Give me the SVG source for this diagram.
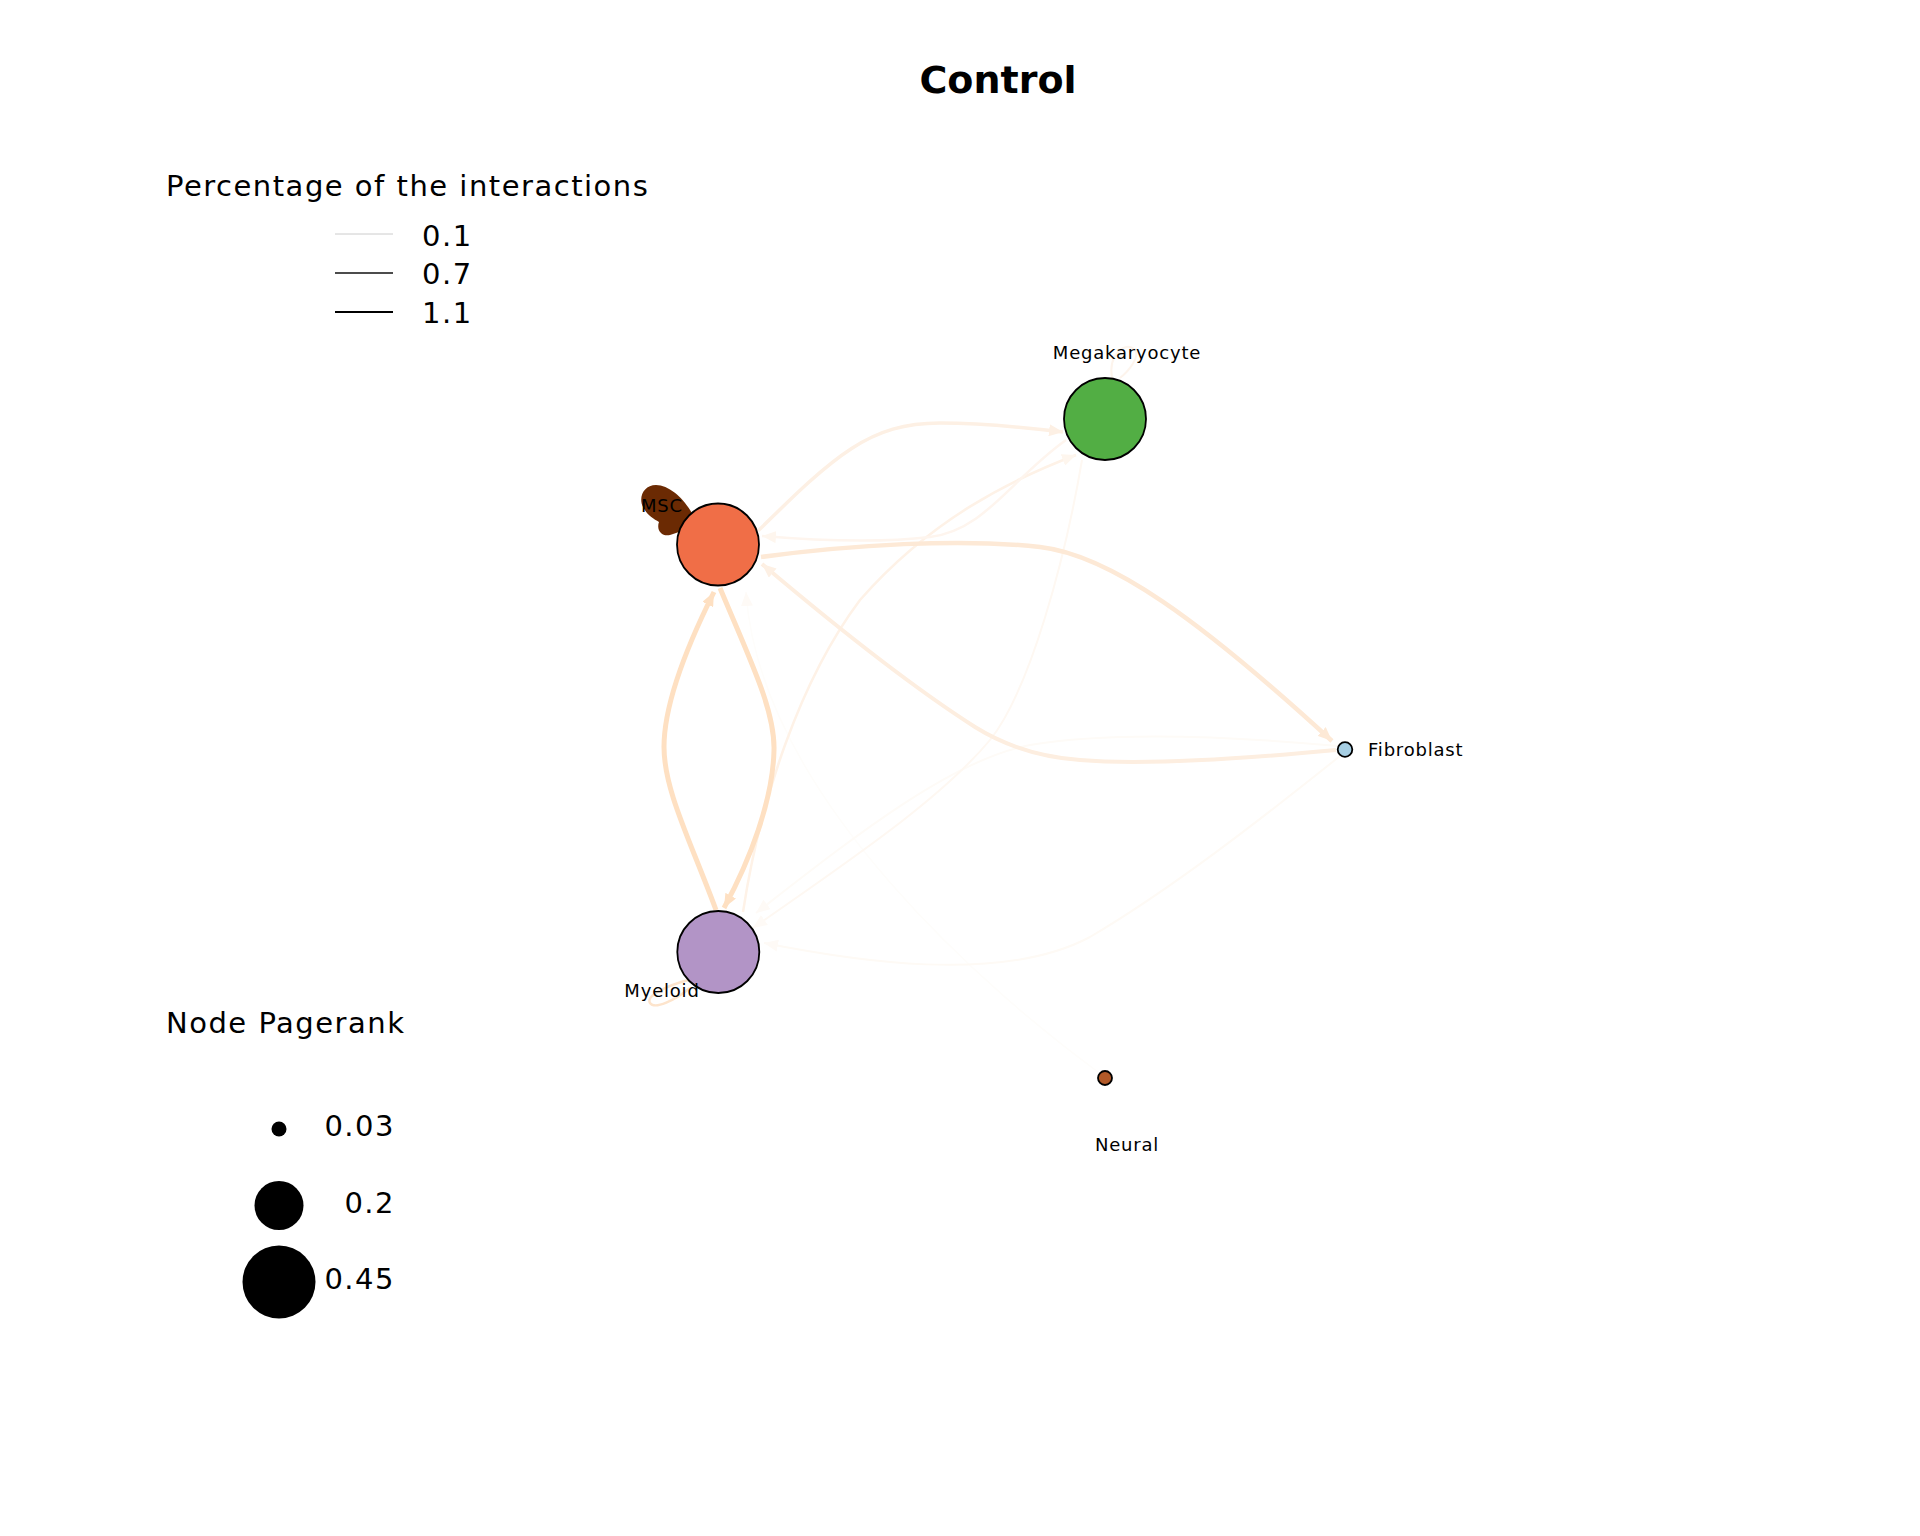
<svg xmlns="http://www.w3.org/2000/svg" width="1920" height="1536" viewBox="0 0 1920 1536">
<style>
text{font-family:"DejaVu Sans","Liberation Sans",sans-serif;fill:#000}
.title{font-size:38px;font-weight:bold}
.leg{font-size:29px;letter-spacing:1.5px}
.lbl{font-size:18px;letter-spacing:0.8px}
.node{stroke:#000;stroke-width:1.8}
.e{fill:none;stroke-linecap:butt}
</style>
<defs>
<marker id="a1" markerUnits="userSpaceOnUse" markerWidth="16" markerHeight="12" refX="14" refY="6" orient="auto"><path d="M0,0 L14,6 L0,12 z" fill="#fee0c2"/></marker>
<marker id="a2" markerUnits="userSpaceOnUse" markerWidth="16" markerHeight="12" refX="14" refY="6" orient="auto"><path d="M0,0 L14,6 L0,12 z" fill="#fde9d6"/></marker>
<marker id="a3" markerUnits="userSpaceOnUse" markerWidth="16" markerHeight="12" refX="14" refY="6" orient="auto"><path d="M0,0 L14,6 L0,12 z" fill="#fdf0e4"/></marker>
<marker id="a4" markerUnits="userSpaceOnUse" markerWidth="16" markerHeight="12" refX="14" refY="6" orient="auto"><path d="M0,0 L14,6 L0,12 z" fill="#fef6ee"/></marker>
<marker id="a5" markerUnits="userSpaceOnUse" markerWidth="16" markerHeight="12" refX="14" refY="6" orient="auto"><path d="M0,0 L14,6 L0,12 z" fill="#fefaf6"/></marker>
</defs>
<rect width="1920" height="1536" fill="#fff"/>
<text class="title" x="998" y="93" text-anchor="middle">Control</text>
<g id="legend-edges">
<text class="leg" x="166" y="196">Percentage of the interactions</text>
<line x1="335" y1="234" x2="393" y2="234" stroke="#cccccc" stroke-width="1"/>
<line x1="335" y1="273" x2="393" y2="273" stroke="#111" stroke-width="1.3"/>
<line x1="335" y1="312" x2="393" y2="312" stroke="#000" stroke-width="2.2"/>
<text class="leg" x="422" y="246">0.1</text>
<text class="leg" x="422" y="284">0.7</text>
<text class="leg" x="422" y="323">1.1</text>
</g>
<g id="legend-nodes">
<text class="leg" x="166" y="1033">Node Pagerank</text>
<circle cx="279" cy="1129" r="7.5" fill="#000"/>
<circle cx="279" cy="1205.5" r="24.5" fill="#000"/>
<circle cx="279" cy="1282" r="36.5" fill="#000"/>
<text class="leg" x="395" y="1136" text-anchor="end">0.03</text>
<text class="leg" x="395" y="1213" text-anchor="end">0.2</text>
<text class="leg" x="395" y="1289" text-anchor="end">0.45</text>
</g>
<g id="edges">
<path class="e" d="M1098 1072 C1000 1000 760 800 746 592" stroke="#fefdfb" stroke-width="1.5" marker-end="url(#a5)"/>
<path class="e" d="M1340 756 C1260 820 1170 890 1090 937 C1000 985 850 960 764 943" stroke="#fefaf5" stroke-width="2" marker-end="url(#a5)"/>
<path class="e" d="M1338 746 C1250 738 1120 730 1030 745 C950 760 850 840 756 913" stroke="#fefbf7" stroke-width="2" marker-end="url(#a5)"/>
<path class="e" d="M1082 460 C1065 560 1030 690 990 740 C940 800 850 860 753 928" stroke="#fef8f2" stroke-width="2" marker-end="url(#a5)"/>
<path class="e" d="M743 912 C760 800 800 680 860 600 C930 520 1010 480 1076 455" stroke="#fef2e7" stroke-width="2.5" marker-end="url(#a4)"/>
<path class="e" d="M1066 440 C1010 480 985 530 930 537 C880 543 810 540 762 536" stroke="#fef5ee" stroke-width="2.5" marker-end="url(#a4)"/>
<path class="e" d="M758 531 C835 455 870 423 940 423 C985 423 1030 428 1063 432" stroke="#fdf0e4" stroke-width="3.5" marker-end="url(#a3)"/>
<path class="e" d="M1336 750 C1230 760 1140 765 1080 760 C1040 757 1007 747 975 727 C920 692 840 630 762 564" stroke="#fdeee0" stroke-width="4" marker-end="url(#a3)"/>
<path class="e" d="M761 557 C850 545 960 538 1040 547 C1110 555 1200 620 1332 741" stroke="#fde9d6" stroke-width="4.5" marker-end="url(#a2)"/>
<path class="e" d="M720 588 C750 660 775 710 774 750 C773 800 750 860 724 908" stroke="#fee0c2" stroke-width="5" marker-end="url(#a1)"/>
<path class="e" d="M716 910 C690 840 664 790 664 747 C664 700 690 640 714 592" stroke="#fee0c2" stroke-width="5" marker-end="url(#a1)"/>
<path class="e" d="M688 980 C670 985 645 995 650 1003 C655 1010 675 1000 690 988" stroke="#fde4cc" stroke-width="2.5"/>
<path class="e" d="M1112 378 C1108 355 1125 340 1135 350 C1140 356 1130 370 1120 378" stroke="#fdf4ec" stroke-width="2"/>
<path d="M696 522 C690 505 672 485 656 485 C644 485 638 497 643 507 C647 515 654 519 659 522 C656 530 662 537 670 535 C677 533 683 529 690 532 Z" fill="#6b2a03"/>
</g>
<g id="node-msc">
<circle class="node" cx="718" cy="544.5" r="41" fill="#f06e47"/>
<text class="lbl" x="662" y="512" text-anchor="middle">MSC</text>
</g>
<g id="node-megakaryocyte">
<circle class="node" cx="1105" cy="419" r="41" fill="#52ae44"/>
<text class="lbl" x="1127" y="359" text-anchor="middle">Megakaryocyte</text>
</g>
<g id="node-myeloid">
<circle class="node" cx="718.3" cy="952" r="41" fill="#b294c6"/>
<text class="lbl" x="662" y="997" text-anchor="middle">Myeloid</text>
</g>
<g id="node-fibroblast">
<circle class="node" cx="1345" cy="749.5" r="7.3" fill="#a6cee3"/>
<text class="lbl" x="1368" y="756">Fibroblast</text>
</g>
<g id="node-neural">
<circle class="node" cx="1105" cy="1078" r="7" fill="#b15928"/>
<text class="lbl" x="1127" y="1151" text-anchor="middle">Neural</text>
</g>
</svg>
